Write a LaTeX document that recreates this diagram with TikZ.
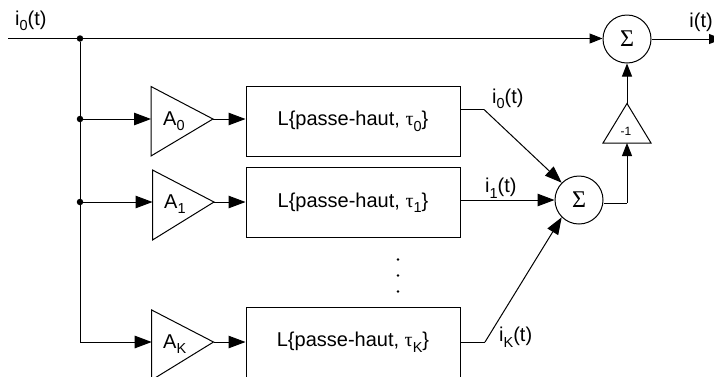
\documentclass[tikz,border=0pt]{standalone}
\usepackage{fontspec}
\setmainfont{Liberation Sans}
\newfontfamily\serifgreek{Liberation Serif}
\usetikzlibrary{arrows.meta}
\newcommand{\lowtxt}[1]{\raisebox{-0.28em}{\fontsize{14.5}{15}\selectfont #1}}
\newcommand{\tautxt}{{\serifgreek τ}}
\tikzset{
  x=1pt,y=-1pt,
  wire/.style={line width=1pt,line cap=butt},
  arrowbig/.style={wire,-{Triangle[length=17pt,width=12.5pt]}},
  arrowsmall/.style={wire,-{Triangle[length=13pt,width=10pt]}},
  blockbox/.style={draw,line width=1pt,minimum width=214pt,minimum height=70pt,inner sep=0pt},
  sumnode/.style={draw,circle,line width=1pt,minimum size=48pt,inner sep=0pt,font=\fontsize{24}{26}\selectfont\serifgreek},
  junction/.style={circle,fill=black,minimum size=6.5pt,inner sep=0pt},
  txt/.style={font=\fontsize{20}{22}\selectfont,inner sep=0pt,anchor=west},
  gainshape/.style={draw,line width=1pt,line join=miter},
  dotnode/.style={circle,fill=black,minimum size=2.6pt,inner sep=0pt}
}
\begin{document}
\begin{tikzpicture}
\useasboundingbox (0,0) rectangle (714,376);
\clip (0,0) rectangle (714,376);
% blocks
\node[blockbox,font=\fontsize{20}{22}\selectfont] (b0) at (353,121.3) {L\{passe-haut, \tautxt\lowtxt{0}\}};
\node[blockbox,font=\fontsize{20}{22}\selectfont] (b1) at (353,202.7) {L\{passe-haut, \tautxt\lowtxt{1}\}};
\node[blockbox] (bK) at (353,342.7) {};
\node[font=\fontsize{20}{22}\selectfont,inner sep=0pt] (bKtext) at (353,342) {L\{passe-haut, \tautxt\lowtxt{K}\}};
% sums
\node[sumnode] (s0) at (627,39) {Σ};
\node[sumnode] (s1) at (579,200) {Σ};
% gains
\coordinate (g0in) at (151,119);
\coordinate (g0out) at (213,119);
\coordinate (g1in) at (152.5,202);
\coordinate (g1out) at (214,202);
\coordinate (gKin) at (151.7,342);
\coordinate (gKout) at (213.5,342);
\draw[gainshape] (151,86.5) -- (g0out) -- (151,156) -- cycle;
\draw[gainshape] (152.5,170) -- (g1out) -- (152.5,240) -- cycle;
\draw[gainshape] (151.7,310) -- (gKout) -- (151.7,380) -- cycle;
\node[txt] (a0) at (163,121) {A\lowtxt{0}};
\node[txt] (a1) at (164,204) {A\lowtxt{1}};
\node[txt] (aK) at (163,344) {A\lowtxt{K}};
% inverter
\coordinate (mtop) at (627,103.5);
\coordinate (mbot) at (627,143);
\draw[gainshape] (mtop) -- (651,143) -- (603,143) -- cycle;
\node[inner sep=0pt,font=\fontsize{12}{14}\selectfont] (m1) at (626,131) {-1};
% input bus
\coordinate (in) at (8,38.5);
\node[junction] (j0) at (80,38.5) {};
\node[junction] (j1) at (80,119) {};
\node[junction] (j2) at (80,202) {};
\coordinate (jK) at (80,342);
\draw[wire] (in) -- (j0);
\draw[arrowsmall] (j0) -- (s0.west |- j0);
\draw[wire] (j0) -- (jK);
\draw[arrowbig] (j1) -- (g0in);
\draw[arrowbig] (j2) -- (g1in);
\draw[arrowbig] (jK) -- (gKin);
% gains to blocks
\draw[arrowbig] (g0out) -- (b0.west |- g0out);
\draw[arrowbig] (g1out) -- (b1.west |- g1out);
\draw[arrowbig] (gKout) -- (bK.west |- gKout);
% block outputs
\coordinate (k0) at (484,109.5);
\coordinate (kK) at (485,342);
\draw[wire] (b0.east |- k0) -- (k0);
\draw[arrowbig] (k0) -- (s1.north west);
\draw[arrowbig] (b1.east |- s1) -- (s1.west);
\draw[wire] (bK.east |- kK) -- (kK);
\draw[arrowbig] (kK) -- (s1.south west);
% sum path
\coordinate (bend) at (627,203);
\draw[wire] (s1.east |- bend) -- (bend);
\draw[arrowsmall] (bend) -- (mbot);
\draw[arrowsmall] (mtop) -- (s0.south);
\coordinate (out) at (722,39);
\draw[arrowsmall] (s0.east) -- (out);
% dots
\node[dotnode] (d1) at (398,259.5) {};
\node[dotnode] (d2) at (398,275.5) {};
\node[dotnode] (d3) at (398,291.5) {};
% labels
\node[txt] (l1) at (15,21) {i\lowtxt{0}(t)};
\node[txt,anchor=east] (l2) at (713,22) {i(t)};
\node[txt] (l3) at (492,99) {i\lowtxt{0}(t)};
\node[txt] (l4) at (485,188) {i\lowtxt{1}(t)};
\node[txt] (l5) at (499,337) {i\lowtxt{K}(t)};
\end{tikzpicture}
\end{document}
